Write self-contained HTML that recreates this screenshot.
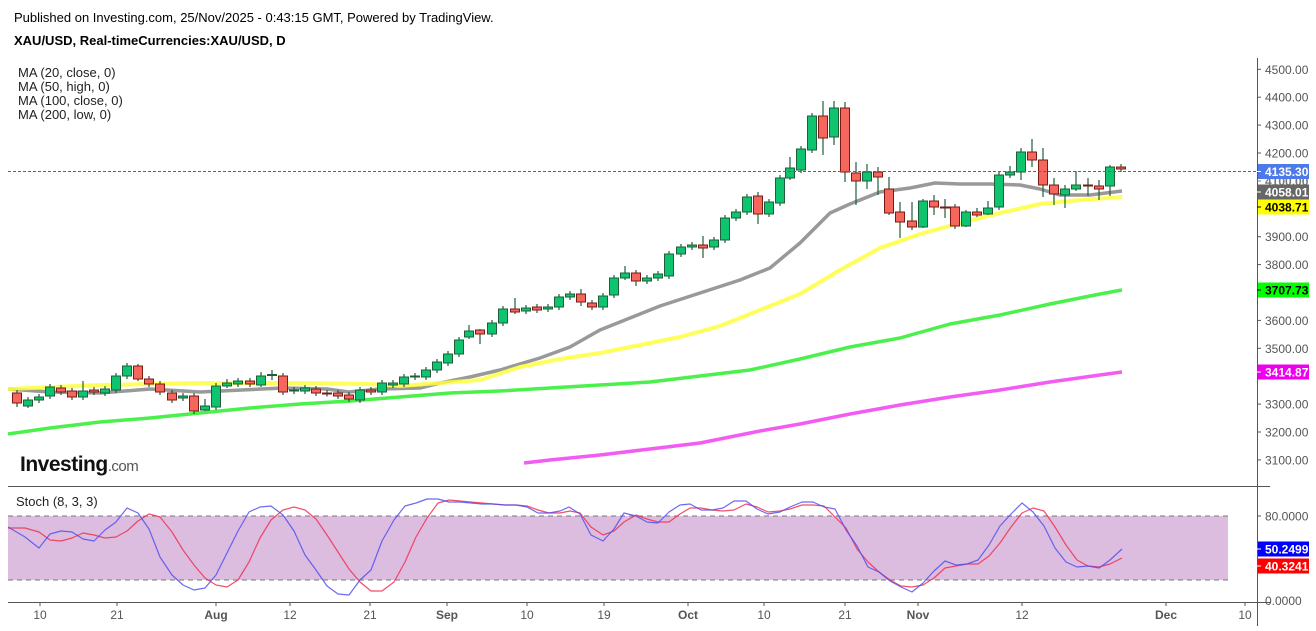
<!DOCTYPE html>
<html><head><meta charset="utf-8"><style>
body{margin:0;background:#fff;width:1316px;height:626px;overflow:hidden;font-family:"Liberation Sans",Arial,sans-serif}
svg text{font-family:"Liberation Sans",Arial,sans-serif}
</style></head><body>
<svg id="s" width="1316" height="626" xmlns="http://www.w3.org/2000/svg">
<rect width="1316" height="626" fill="#fff"/>
<text x="14" y="22" font-size="13" fill="#000">Published on Investing.com, 25/Nov/2025 - 0:43:15 GMT, Powered by TradingView.</text>
<text x="14" y="45" font-size="13" font-weight="bold" fill="#000">XAU/USD, Real-timeCurrencies:XAU/USD, D</text>
<g font-size="13" fill="#222">
<text x="18" y="77">MA (20, close, 0)</text>
<text x="18" y="91">MA (50, high, 0)</text>
<text x="18" y="105">MA (100, close, 0)</text>
<text x="18" y="119">MA (200, low, 0)</text>
</g>
<text x="20" y="471" font-size="21" font-weight="bold" fill="#111" letter-spacing="-0.5">Investing<tspan font-weight="normal" font-size="15" fill="#555">.com</tspan></text>
<rect x="8" y="516" width="1220" height="64" fill="#dcbde0"/>
<line x1="8" y1="516" x2="1228" y2="516" stroke="#777" stroke-dasharray="5,4"/>
<line x1="8" y1="580" x2="1228" y2="580" stroke="#777" stroke-dasharray="5,4"/>
<text x="16" y="506" font-size="13" fill="#222">Stoch (8, 3, 3)</text>
<g id="g"></g>
<line x1="1257.5" y1="58" x2="1257.5" y2="626" stroke="#555"/>
<line x1="8" y1="486.5" x2="1270" y2="486.5" stroke="#555"/>
<line x1="8" y1="602.5" x2="1270" y2="602.5" stroke="#555"/>
<g id="ax" font-size="12" fill="#555"></g>
</svg>
<script>
var g=document.getElementById('g'),ax=document.getElementById('ax'),NS='http://www.w3.org/2000/svg';
function el(p,t,a){var e=document.createElementNS(NS,t);for(var k in a)e.setAttribute(k,a[k]);p.appendChild(e);return e;}
function Y(p){return 69.3+(4500-p)*0.279;}
function line(pts,c,w,o){el(g,'polyline',{points:pts.map(function(p){return p.join(',')}).join(' '),fill:'none',stroke:c,'stroke-width':w,'stroke-opacity':o||1,'stroke-linejoin':'round'});}
line([[8,434],[50,428],[100,422],[150,418],[200,413],[250,408],[300,404],[350,401],[400,397],[450,393],[500,391],[550,388],[600,385],[650,382],[700,376],[750,370],[800,359],[850,347],[900,338],[950,324],[1000,315],[1050,304],[1100,294],[1122,290]],'#4cf04c',3.5);
line([[524,463],[550,460],[600,455],[650,449],[700,443],[760,431],[800,424],[850,414],[900,405],[950,397],[1000,390],[1050,382],[1100,375],[1122,372]],'#f25cf2',3.5);
line([[8,389],[50,392],[100,393],[150,389],[200,392],[283,388],[327,389],[349,392],[380,389],[420,388],[440,383],[470,377],[500,370],[540,358],[570,347],[600,330],[630,318],[660,306],[700,293],[740,280],[770,268],[800,243],[830,213],[850,204],[880,192],[910,188],[935,183],[960,184],[990,184],[1020,185],[1040,189],[1060,195],[1090,195],[1122,191]],'#999',3.5);
line([[8,389],[100,385],[200,383],[300,383],[370,384],[400,386],[440,383],[480,380],[520,367],[560,359],[600,353],[640,345],[680,337],[720,326],[760,310],[800,294],[840,270],[880,248],[920,234],[960,223],[1000,213],[1040,204],[1080,200],[1122,197]],'#ffff40',4,0.85);
var C=[[17,393,403,390,407],[28,406,400,397,408],[39,400,397],[50,396,387,384,399],[61,388,392],[72,391,397],[83,397,391,381,400],[94,390,392],[105,393,389],[116,390,376],[127,376,366],[138,366,379,364,381],[149,379,384],[160,384,392],[172,393,400],[183,398,396],[194,396,411],[205,410,406,399,411],[216,407,386],[227,386,383,379,388],[238,384,381],[250,381,384],[261,385,376,372,387],[272,375.5,374.5,370,380],[283,376,392],[294,391,390],[305,391,388],[316,389,393],[327,393,393.5],[338,393,396],[349,395,399],[360,400,390],[371,390,392],[382,392,383],[393,385,383],[404,384,377],[415,377,376],[426,377,370],[437,370,362],[448,363,354],[459,354,340],[469,337,331,325,339],[480,330,334,329,344],[492,334,323],[503,323,309],[515,309,312,298,314],[526,311,308],[537,307,310],[548,309,307],[559,307,297],[570,297,294],[581,294,302,289,306],[592,303,307],[603,307,296],[614,295,278],[625,278,273,266,280],[636,273,281,270,286],[647,281,278],[658,278,274],[669,276,254],[681,254,247],[692,247,245],[703,245,248,236,258],[714,247,240],[725,240,218],[736,218,212],[747,212,197],[758,196,214,192,224],[769,214,202],[780,203,178],[790,178,168,157,180],[801,170,149],[812,150,116],[823,116,138,101,155],[834,137,108,101,145],[845,108,172,102,182],[856,173,181,162,205],[867,181,172,164,189],[878,172,177,167,195],[889,189,213,177,215],[900,212,222,202,238],[912,221,227,202,230],[923,227,201,199,228],[934,201,207,195,215],[945,207,207.5,199,218],[955,207,226],[966,226,212,210,227],[977,212,215,208,217],[988,214,208,201,215],[999,207,175],[1010,175,172,166,178],[1021,172,152,148,180],[1032,152,160,139,167],[1043,160,185,148,197],[1054,185,194,178,205],[1065,195,189,185,208],[1076,189,185,171,191],[1088,185,186,178,196],[1099,186,189,180,200],[1110,186,167,165,196],[1121,167,169]];
C.forEach(function(c){var x=c[0],o=c[1],cl=c[2],up=cl<o,t=Math.min(o,cl),b=Math.max(o,cl);
var h=c[3]!==undefined?c[3]:t-3,l=c[4]!==undefined?c[4]:b+3;
el(g,'line',{x1:x,y1:h,x2:x,y2:l,stroke:'#1f5e3a','stroke-width':1.2});
el(g,'rect',{x:x-4.5,y:t,width:9,height:Math.max(b-t,1),fill:up?'#0ec46e':'#f5675c',stroke:up?'#1f5e3a':'#7a1a14','stroke-width':1});});
el(g,'line',{x1:8,y1:171.5,x2:1257,y2:171.5,stroke:'#2962ff','stroke-dasharray':'3,2','stroke-width':1});
var K=[[8,527],[25,537],[39,548],[50,534],[61,531],[72,532],[83,539],[94,541],[105,530],[116,522],[127,508],[138,513],[149,529],[160,557],[172,575],[183,585],[194,590],[205,588],[216,575],[227,553],[238,531],[249,512],[260,507],[271,506],[283,515],[294,531],[305,555],[316,570],[327,586],[338,594],[349,595],[360,580],[371,570],[382,541],[394,520],[405,506],[416,503],[427,499],[438,499],[449,502],[460,502],[471,503],[482,504],[493,504],[505,505],[516,505],[527,507],[538,513],[549,513],[560,511],[569,507],[580,514],[591,535],[603,541],[614,529],[624,513],[636,516],[647,522],[658,523],[669,512],[680,505],[690,504],[701,510],[712,510],[723,508],[734,501],[746,501],[757,509],[768,514],[780,512],[790,507],[802,502],[813,502],[824,507],[835,509],[846,530],[857,546],[868,567],[879,572],[890,581],[901,587],[912,592],[923,583],[934,571],[945,561],[956,565],[967,564],[978,560],[989,545],[1000,526],[1011,514],[1022,503],[1033,512],[1044,526],[1055,548],[1066,562],[1077,567],[1088,566],[1099,568],[1110,560],[1122,549]];
var D=[[8,528],[25,528],[39,532],[50,540],[61,541],[72,538],[83,533],[94,535],[105,538],[116,537],[127,531],[138,521],[149,514],[160,517],[172,532],[183,550],[194,565],[205,578],[216,585],[227,587],[238,580],[249,562],[260,538],[271,520],[283,510],[294,507],[305,510],[316,519],[327,535],[338,552],[349,569],[360,582],[371,591],[382,591],[394,582],[405,562],[416,537],[427,518],[438,503],[449,500],[460,501],[471,502],[482,503],[493,504],[505,505],[516,505],[527,506],[538,510],[549,513],[560,513],[570,511],[580,513],[591,527],[603,535],[614,531],[624,522],[636,515],[647,519],[658,522],[669,522],[680,514],[690,508],[701,508],[712,510],[723,511],[734,510],[746,504],[757,507],[768,512],[780,511],[790,509],[802,505],[813,505],[824,506],[835,517],[846,528],[857,549],[868,562],[879,572],[890,580],[901,586],[912,587],[923,585],[934,578],[945,568],[956,566],[967,564],[978,564],[989,556],[1000,543],[1011,527],[1022,513],[1033,508],[1044,511],[1055,527],[1066,545],[1077,560],[1088,566],[1099,567],[1110,564],[1122,558]];
line(D,'#f03050',1.2,0.85);line(K,'#5050f0',1.2,0.85);
[4500,4400,4300,4200,3900,3800,3600,3500,3300,3200,3100].forEach(function(p){var y=Y(p);
el(ax,'line',{x1:1257,y1:y,x2:1261,y2:y,stroke:'#555'});var t=el(ax,'text',{x:1265,y:y+4.5});t.textContent=p.toFixed(2);});
function tag(y,txt,bg,fg){el(ax,'rect',{x:1258,y:y-7.5,width:51,height:15,fill:bg});el(ax,'line',{x1:1257,y1:y,x2:1261,y2:y,stroke:fg});var t=el(ax,'text',{x:1265,y:y+4.5,fill:fg,'font-weight':'bold'});t.textContent=txt;}
tag(181,'4100.00','#fff','#777');
tag(171.5,'4135.30','#4c7ae8','#fff');
tag(192,'4058.01','#666','#fff');
tag(207,'4038.71','#ffff00','#000');
tag(290,'3707.73','#00ff00','#000');
tag(372,'3414.87','#ee00ee','#fff');
el(ax,'line',{x1:1257,y1:516,x2:1261,y2:516,stroke:'#555'});
var t=el(ax,'text',{x:1265,y:520.5});t.textContent='80.0000';
t=el(ax,'text',{x:1265,y:605});t.textContent='0.0000';
tag(549,'50.2499','#0000ff','#fff');
tag(566,'40.3241','#ff0000','#fff');
[[40,'10'],[117,'21'],[216,'Aug',1],[290,'12'],[370,'21'],[447,'Sep',1],[527,'10'],[604,'19'],[688,'Oct',1],[764,'10'],[845,'21'],[918,'Nov',1],[1022,'12'],[1166,'Dec',1],[1245,'10']].forEach(function(a){
el(ax,'line',{x1:a[0],y1:602,x2:a[0],y2:606,stroke:'#555'});var t=el(ax,'text',{x:a[0],y:619,'text-anchor':'middle','font-weight':a[2]?'bold':'normal'});t.textContent=a[1];});
</script>
</body></html>
